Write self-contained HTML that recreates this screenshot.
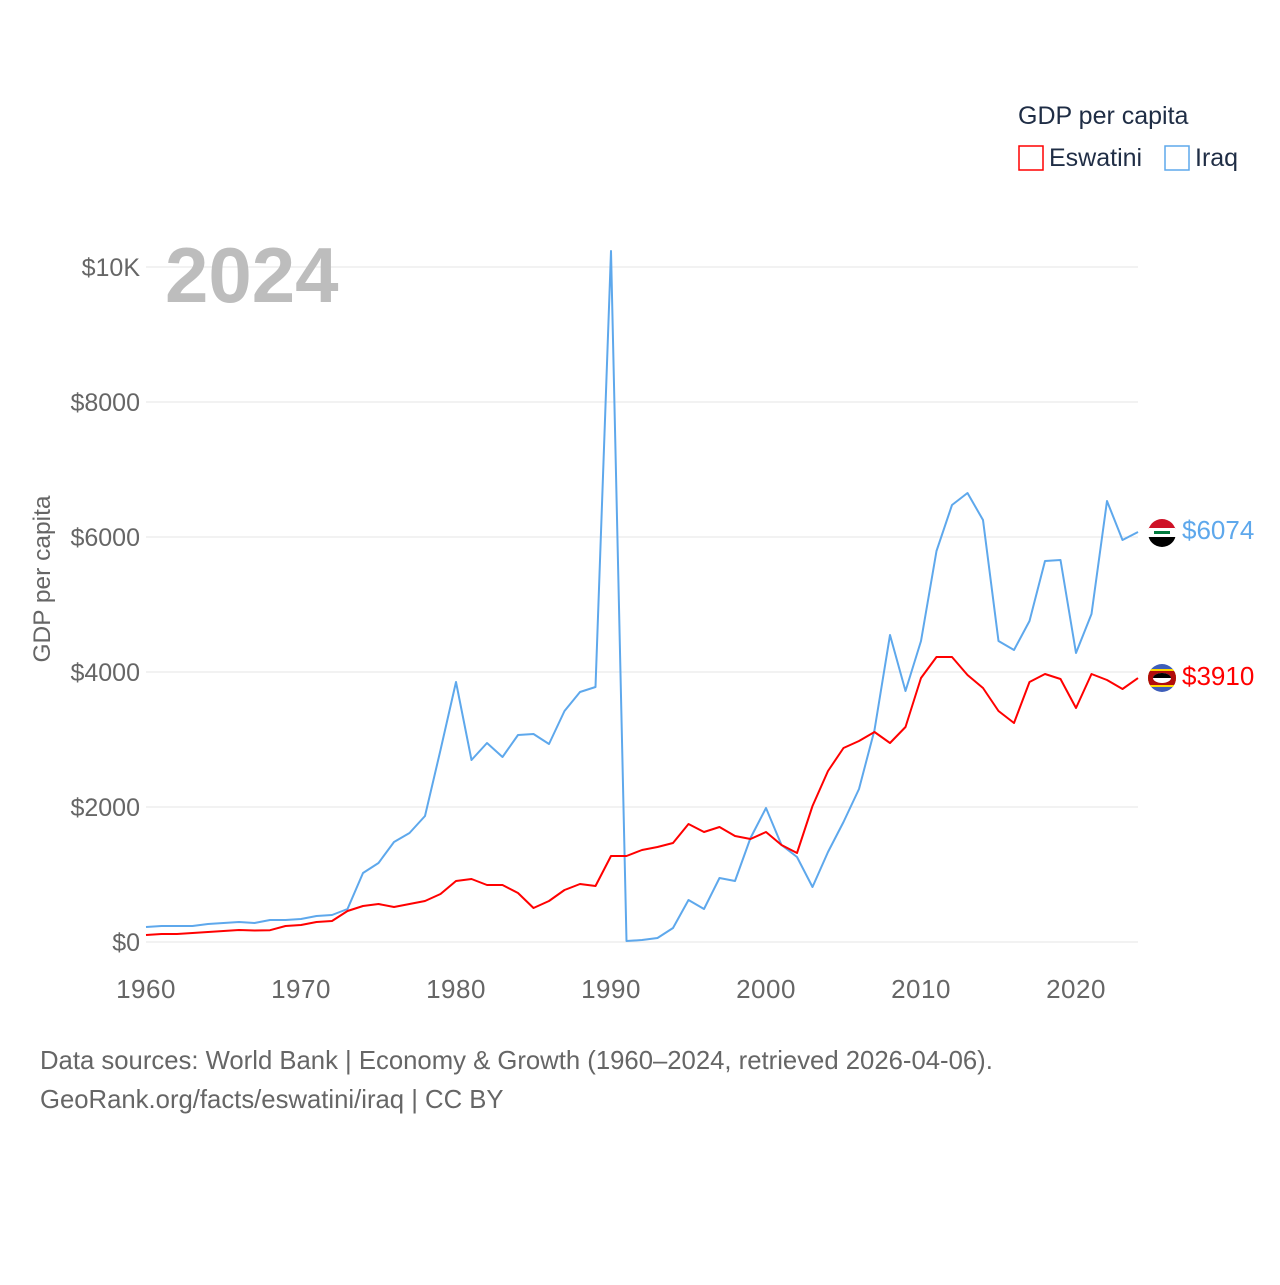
<!DOCTYPE html>
<html><head><meta charset="utf-8">
<style>
html,body{margin:0;padding:0;background:#fff;}
body{width:1280px;height:1280px;overflow:hidden;font-family:"Liberation Sans",sans-serif;}
svg text{font-family:"Liberation Sans",sans-serif;}
</style></head>
<body>
<svg id="chart" width="1280" height="1280" viewBox="0 0 1280 1280" xmlns="http://www.w3.org/2000/svg">
  <g id="grid"></g>
  <g id="yticks"></g>
  <g id="xticks"></g>
  <text x="165" y="302" font-size="78" font-weight="bold" fill="#bdbdbd">2024</text>
  <text transform="translate(50,579) rotate(-90)" text-anchor="middle" font-size="24.5" fill="#666">GDP per capita</text>
  <g id="series"></g>
  <g>
    <text x="1018" y="124" font-size="25" fill="#1f2d45">GDP per capita</text>
    <g>
      <rect x="1019" y="146" width="24" height="24" fill="none" stroke="#ff0000" stroke-width="1.5"/>
      <text x="1049" y="166" font-size="25" fill="#1f2d45">Eswatini</text>
    </g>
    <g>
      <rect x="1165" y="146" width="24" height="24" fill="none" stroke="#5ea8ec" stroke-width="1.5"/>
      <text x="1195" y="166" font-size="25" fill="#1f2d45">Iraq</text>
    </g>
  </g>
  <g>
    <clipPath id="ciq"><circle cx="1162" cy="533" r="14"/></clipPath>
    <g clip-path="url(#ciq)">
      <rect x="1148" y="519" width="28" height="10" fill="#ce1126"/>
      <rect x="1148" y="528" width="28" height="10" fill="#fff"/>
      <rect x="1148" y="537" width="28" height="10" fill="#000"/>
      <rect x="1154" y="531" width="16" height="3" fill="#007a3d"/>
    </g>
  </g>
  <g>
    <clipPath id="csz"><circle cx="1162" cy="678" r="14"/></clipPath>
    <g clip-path="url(#csz)">
      <rect x="1148" y="664" width="28" height="28" fill="#3e5eb9"/>
      <rect x="1148" y="669" width="28" height="18" fill="#ffd900"/>
      <rect x="1148" y="671" width="28" height="14" fill="#b10c0c"/>
      <ellipse cx="1162" cy="678" rx="9" ry="5" fill="#fff"/>
      <path d="M1153 678 A9 5 0 0 1 1171 678 Z" fill="#000"/>
    </g>
  </g>
  <text x="1182" y="539" font-size="26" fill="#5ea8ec">$6074</text>
  <text x="1182" y="685" font-size="26" fill="#ff0000">$3910</text>
  <text x="40" y="1069" font-size="25.7" fill="#666">Data sources: World Bank | Economy &amp; Growth (1960–2024, retrieved 2026-04-06).</text>
  <text x="40" y="1108" font-size="25.7" fill="#666">GeoRank.org/facts/eswatini/iraq | CC BY</text>
</svg>
<script>
const years = [];
for (let y = 1960; y <= 2024; y++) years.push(y);
const iraq = [222,237,237,237,267,281,296,281,326,326,341,385,400,489,1022,1170,1481,1615,1867,2844,3852,2696,2948,2741,3067,3081,2933,3422,3704,3778,10237,15,30,59,207,622,489,948,904,1541,1985,1437,1259,815,1333,1778,2267,3141,4548,3719,4459,5793,6474,6652,6252,4459,4326,4756,5644,5659,4281,4859,6533,5956,6074];
const eswatini = [104,119,119,133,148,163,178,170,175,237,252,296,311,459,533,563,519,563,607,711,904,933,844,844,726,504,607,770,859,830,1274,1274,1363,1407,1467,1748,1630,1704,1570,1526,1630,1437,1319,2015,2533,2874,2978,3111,2948,3185,3911,4222,4222,3956,3763,3422,3244,3852,3970,3896,3467,3970,3881,3748,3910];
const yTicks = [0,2000,4000,6000,8000,10000];
const yTickLabels = ["$0","$2000","$4000","$6000","$8000","$10K"];
const xTicks = [1960,1970,1980,1990,2000,2010,2020];

const NS = "http://www.w3.org/2000/svg";
function xs(v){ return 146 + (v - 1960) * 15.5; }
function ys(v){ return 942 - v * 0.0675; }
function mk(tag, attrs, parent){ const e = document.createElementNS(NS, tag); for (const k in attrs) e.setAttribute(k, attrs[k]); parent.appendChild(e); return e; }

const grid = document.getElementById('grid');
const yt = document.getElementById('yticks');
yTicks.forEach((v, i) => {
  const l = mk('line', {x1:146, x2:1138, y1:ys(v), y2:ys(v), stroke:'#e6e6e6', 'stroke-width':1}, grid);
  
  
  const t = mk('text', {x:140, y:ys(v)+9, 'text-anchor':'end', 'font-size':25, fill:'#666'}, yt);
  t.textContent = yTickLabels[i];
  
  
});
const xt = document.getElementById('xticks');
xTicks.forEach(v => {
  const t = mk('text', {x:xs(v), y:998, 'text-anchor':'middle', 'font-size':26, 'letter-spacing':'0.5', fill:'#666'}, xt);
  t.textContent = v;
  
  
});
const ser = document.getElementById('series');
function line(data, color, name){
  const pts = data.map((v, i) => xs(years[i]).toFixed(1) + ',' + ys(v).toFixed(1)).join(' ');
  const p = mk('polyline', {points:pts, fill:'none', stroke:color, 'stroke-width':2, 'stroke-linejoin':'round'}, ser);
  
  
}
line(iraq, '#5ea8ec', 'iraq-line');
line(eswatini, '#ff0000', 'eswatini-line');
</script>
</body></html>
